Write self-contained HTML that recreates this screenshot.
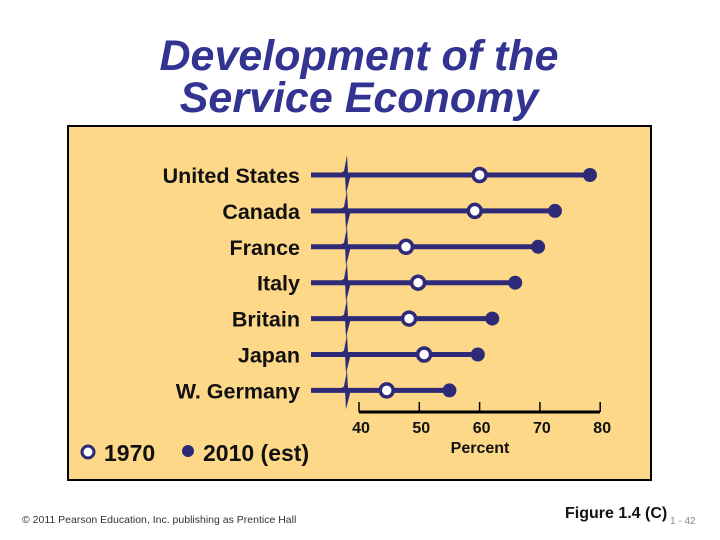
<!DOCTYPE html>
<html><head><meta charset="utf-8"><style>
body{margin:0;background:#fff;}
svg{display:block;font-family:"Liberation Sans",Arial,sans-serif;}
</style></head><body>
<svg width="720" height="540" viewBox="0 0 720 540">
<text x="359" y="70" text-anchor="middle" font-size="43" font-weight="bold" font-style="italic" fill="#333391">Development of the</text>
<text x="359" y="112" text-anchor="middle" font-size="43" font-weight="bold" font-style="italic" fill="#333391">Service Economy</text>
<rect x="68" y="126" width="583" height="354" fill="#fdd888" stroke="#000" stroke-width="2"/>
<g id="marks"></g>
<line x1="359" y1="412" x2="600" y2="412" stroke="#000" stroke-width="3"/>
<g id="ticks"></g>
<text x="480" y="453" text-anchor="middle" font-size="16" font-weight="bold" fill="#111">Percent</text>
<g>
<circle cx="88" cy="452" r="6" fill="#fff" stroke="#2e2a78" stroke-width="3"/>
<text x="104" y="461" font-size="23" font-weight="bold" fill="#111">1970</text></g>
<g>
<circle cx="188" cy="451" r="6" fill="#2e2a78"/>
<text x="203" y="461" font-size="23" font-weight="bold" fill="#111">2010 (est)</text></g>
<text x="22" y="523" font-size="10.5" fill="#333">© 2011 Pearson Education, Inc. publishing as Prentice Hall</text>
<text x="565" y="518" font-size="16" font-weight="bold" fill="#111">Figure 1.4 (C)</text>
<text x="670" y="524" font-size="10" fill="#888">1 - 42</text>
</svg>
<script>
const categories=["United States","Canada","France","Italy","Britain","Japan","W. Germany"];
const values1970=[60,59.2,47.8,49.8,48.3,50.8,44.6];
const values2010=[78.3,72.5,69.7,65.9,62.1,59.7,55];
const tickLabels=[40,50,60,70,80];
const NS="http://www.w3.org/2000/svg";
const xs=v=>359+(v-40)*6.03;
const ys=i=>175+i*35.9;
function mk(t,a,p){const e=document.createElementNS(NS,t);for(const k in a)e.setAttribute(k,a[k]);p.appendChild(e);return e;}
const g=document.getElementById('marks');
const C="#2e2a78";
categories.forEach((c,i)=>{
const y=ys(i);
const lb=mk('text',{x:300,y:y+8,'text-anchor':'end','font-size':21.5,'font-weight':'bold',fill:'#111'},g);lb.textContent=c;


const ln=mk('line',{x1:311,y1:y,x2:xs(values2010[i]),y2:y,stroke:C,'stroke-width':5},g);


const br=mk('path',{d:`M347 ${y-20} L344 ${y-4} L338 ${y} L345 ${y} L346 ${y+19} L350 ${y+3} L352 ${y-1} L348 ${y-2} Z`,fill:C},g);


const f=mk('circle',{cx:xs(values2010[i]),cy:y,r:7,fill:C},g);


const o=mk('circle',{cx:xs(values1970[i]),cy:y,r:6.5,fill:'#fff',stroke:C,'stroke-width':3.5},g);


});
const tg=document.getElementById('ticks');
tickLabels.forEach(v=>{
const t=mk('line',{x1:xs(v),y1:402,x2:xs(v),y2:412,stroke:'#000','stroke-width':1.5},tg);


const l=mk('text',{x:xs(v)+2,y:433,'text-anchor':'middle','font-size':16,'font-weight':'bold',fill:'#111'},tg);l.textContent=v;


});
</script>
</body></html>
